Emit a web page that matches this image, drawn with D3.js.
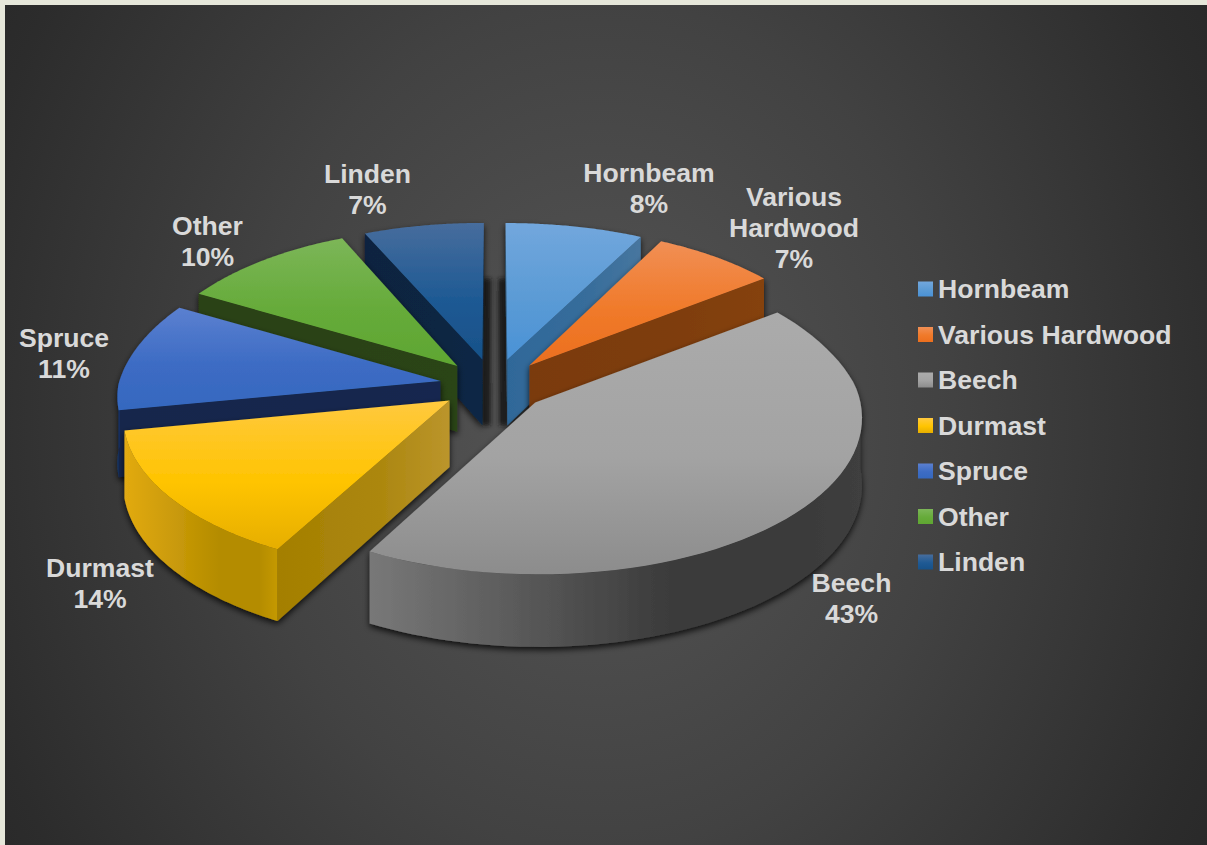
<!DOCTYPE html>
<html><head><meta charset="utf-8">
<script src="https://cdn.jsdelivr.net/npm/d3@7/dist/d3.min.js"></script>
<style>html,body{margin:0;padding:0;background:#e6e7da;overflow:hidden}svg{display:block}
text{font-family:"Liberation Sans",Arial,sans-serif;font-weight:700;fill:#d9d9d9}</style>
</head><body><div id="c"></div>
<script>
const categories=["Hornbeam","Various Hardwood","Beech","Durmast","Spruce","Other","Linden"];
const values=[8,7,43,14,11,10,7];
const labelLines=[["Hornbeam","8%"],["Various","Hardwood","7%"],["Beech","43%"],["Durmast","14%"],["Spruce","11%"],["Other","10%"],["Linden","7%"]];
const topLight=["#72a7dd","#f18f55","#ababab","#ffc93f","#5b80d0","#7cb658","#476d9d"];
const topMid=["#5b9bd5","#f07a2a","#a3a3a3","#ffc400","#3d6cc4","#66ab3a","#1f5a94"];
const topDark=["#4a92d6","#ec6f1e","#8c8c8c","#e6ae00","#3568bf","#5fa632","#175189"];
const wallA=["#2f6899","#7a3a0d","#787878","#a47f00","#13264c","#2a4214","#0a2440"];
const wallB=["#47769f","#85420f","#444444","#bb952c","#14284f","#2a4414","#0b2745"];
const rimA=["#2f6899","#7a3a0d","#787878","#e2aa12","#13346b","#2a4214","#0a2440"];
const rimB=["#47769f","#85420f","#3a3a3a","#b48c00","#13346b","#2a4214","#0a2440"];

const W=1207,H=845,cx=494,cy=385,R=322,ryy=155,explode=0.169,depth=66;
const svg=d3.select("#c").append("svg").attr("width",W).attr("height",H);
const defs=svg.append("defs");
const x=d3.scaleLinear().domain([-1,1]).range([cx-R,cx+R]);
const y=d3.scaleLinear().domain([-1,1]).range([cy+ryy,cy-ryy]);
const bg=defs.append("radialGradient").attr("id","bg").attr("gradientUnits","userSpaceOnUse")
 .attr("cx",0).attr("cy",0).attr("r",1).attr("gradientTransform","translate(600,425) scale(710,850)");
[[0,"#565656"],[.5,"#424242"],[.92,"#2c2c2c"],[1,"#292929"]].forEach(([o,c])=>bg.append("stop").attr("offset",o).attr("stop-color",c));
const f=defs.append("filter").attr("id","sh").attr("x","-10%").attr("y","-10%").attr("width","120%").attr("height","125%");
f.append("feDropShadow").attr("dx",0).attr("dy",3).attr("stdDeviation",3).attr("flood-color","#000").attr("flood-opacity",.8);
defs.append("filter").attr("id","bl").attr("filterUnits","userSpaceOnUse").attr("x",440).attr("y",250).attr("width",110).attr("height",210)
 .append("feGaussianBlur").attr("stdDeviation",2.2);
const grad=(id,x2,y2,stops)=>{const g=defs.append("linearGradient").attr("id",id).attr("x1",0).attr("y1",0).attr("x2",x2).attr("y2",y2);
 stops.forEach(([o,c])=>g.append("stop").attr("offset",o).attr("stop-color",c));};
categories.forEach((c,i)=>{
 grad("t"+i,0,1,[[0,topLight[i]],[.55,topMid[i]],[1,topDark[i]]]);
 grad("w"+i,1,0,[[0,wallA[i]],[.6,d3.interpolateRgb(wallA[i],wallB[i])(.35)],[1,wallB[i]]]);
 grad("r"+i,1,0,[[0,rimA[i]],[.62,rimB[i]],[.88,rimB[i]],[1,d3.color(rimB[i]).brighter(.25).formatHex()]]);
});
svg.append("rect").attr("x",5).attr("y",5).attr("width",W-5).attr("height",H-5).attr("fill","url(#bg)");

const pie=d3.pie().sort(null).value(d=>d)(values);
// perspective: the far half of the pie shrinks faster in x than in y
const scaleX=v=>v>0?1-.125*v:1-.089*v;
const scaleY=v=>v>0?1-.0754*v*v:1-.089*v;
const P=(u,v,z)=>[x(u*scaleX(v)),y(v*scaleY(v))+z*depth*scaleY(v)];
const line=d3.line();
const slices=pie.map((p,i)=>{
 const mid=(p.startAngle+p.endAngle)/2,ex=explode*Math.sin(mid),ey=explode*Math.cos(mid);
 const pt=(a,z,r=1)=>P(ex+r*Math.sin(a),ey+r*Math.cos(a),z);
 return {i,mid,a0:p.startAngle,a1:p.endAngle,pt};
});
// soft shadows in the gap beside the two back slices
const shadows=svg.append("g").attr("filter","url(#bl)");
[slices[6],slices[0]].forEach(s=>{
 const a=s.i===0?s.a0:s.a1, top=s.pt(a,0,.55), bot=s.pt(a,1,0), off=s.i===0?-4:4;
 shadows.append("path").attr("d",line([[top[0]+off,top[1]],[bot[0]+off,bot[1]]]))
  .attr("stroke","#1a1a1a").attr("stroke-width",8).attr("fill","none");
});
const order=slices.slice().sort((p,q)=>d3.descending(Math.cos(p.mid),Math.cos(q.mid)));
order.forEach(s=>{
 const g=svg.append("g").attr("filter","url(#sh)");
 const sample=(a0,a1,z)=>d3.range(0,61).map(t=>s.pt(a0+(a1-a0)*t/60,z));
 const A=s.pt(0,0,0),B=s.pt(0,1,0),M=s.pt(s.mid,0);
 [s.a0,s.a1].forEach(a=>{
  const E=s.pt(a,0),dx=E[0]-A[0],dy=E[1]-A[1],side=dx*(M[1]-A[1])-dy*(M[0]-A[0]);
  if(side*dx<0){g.append("path").attr("d",line([A,E,s.pt(a,1),B])+"Z").attr("fill",`url(#w${s.i})`);}
 });
 const ra=Math.max(s.a0,Math.PI/2),rb=Math.min(s.a1,3*Math.PI/2);
 if(rb>ra){g.append("path").attr("d",line(sample(ra,rb,0).concat(sample(ra,rb,1).reverse()))+"Z").attr("fill",`url(#r${s.i})`);}
 g.append("path").attr("d",line([A].concat(sample(s.a0,s.a1,0)))+"Z").attr("fill",`url(#t${s.i})`);
});
// data labels
const labelCentres=[[649,188],[794,227.5],[851.5,598],[100,583],[64,353],[207.5,241],[367.5,189]];
const lh=31,fs=26.6;
labelLines.forEach((ls,i)=>{
 const t=svg.append("text").attr("text-anchor","middle").attr("font-size",fs);
 ls.forEach((l,j)=>t.append("tspan").attr("x",labelCentres[i][0])
  .attr("y",labelCentres[i][1]+(j-(ls.length-1)/2)*lh+fs*.36).text(l));
});
// legend
const leg=d3.scaleLinear().domain([0,6]).range([289,562]);
categories.forEach((c,i)=>{
 svg.append("rect").attr("x",918).attr("y",leg(i)-7.5).attr("width",15).attr("height",15).attr("fill",`url(#t${i})`);
 svg.append("text").attr("x",938).attr("y",leg(i)+9).attr("font-size",fs).text(c);
});
</script></body></html>
